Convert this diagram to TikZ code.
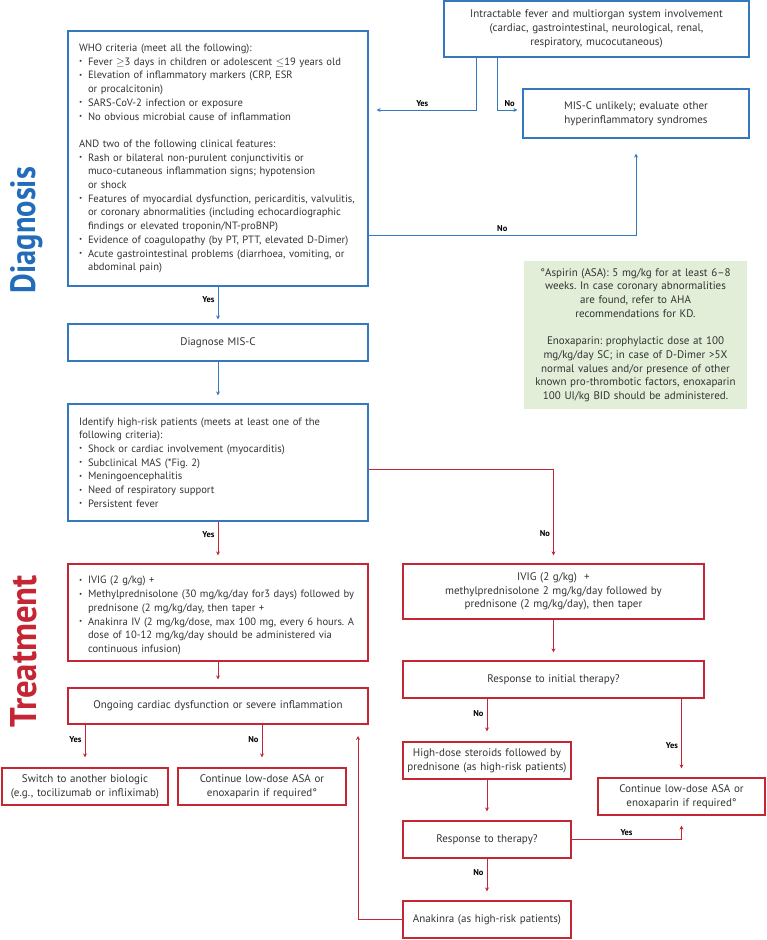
\documentclass[tikz,border=0pt]{standalone}
\usepackage{fontspec}
\setmainfont{PT Sans}
\usetikzlibrary{arrows.meta}
\definecolor{boxblue}{RGB}{52,120,190}
\definecolor{dxblue}{RGB}{34,108,186}
\definecolor{boxred}{RGB}{196,38,52}
\definecolor{notegreen}{RGB}{226,238,216}
\newcommand{\itm}{\par\hangindent=9pt\hangafter=1\noindent\makebox[9pt][l]{\raisebox{1.6pt}{\scriptsize\textbullet}}}

\begin{document}
\begin{tikzpicture}
	[x=1pt,y=-1pt,
	box/.style={draw,line width=1.2pt,inner xsep=4pt,inner ysep=0pt,text=black!80,font=\fontsize{11}{13.7}\selectfont\frenchspacing,align=center},
	bluebox/.style={box,draw=boxblue},
	redbox/.style={box,draw=boxred},
	listbox/.style={text width=292pt,align=left,font=\fontsize{10.6}{13.7}\selectfont\frenchspacing},
	lbl/.style={font=\fontsize{8.5}{9}\selectfont\bfseries,text=black,inner sep=3pt},
	blueconn/.style={draw=boxblue,line width=1pt,-{Stealth[length=4pt,width=4pt]},shorten >=8pt},
	redconn/.style={draw=boxred,line width=1pt,-{Stealth[length=4pt,width=4pt]},shorten >=8pt}]
	\useasboundingbox (0,0) rectangle (767,940);
	
	% side titles
	\node[rotate=90,anchor=base,text=dxblue] (diag) at (35,230) {\resizebox{126pt}{25pt}{\bfseries Diagnosis}};
	\node[rotate=90,anchor=base,text=boxred] (treat) at (36,651) {\resizebox{152pt}{26pt}{\bfseries Treatment}};
	
	% diagnosis
	\node[bluebox,listbox,minimum height=255pt] (who) at (218,158.5) {%
		\leftskip=7pt\noindent WHO criteria (meet all the following):
		\itm Fever $\geq$3 days in children or adolescent $\leq$19 years old
		\itm Elevation of inflammatory markers (CRP, ESR\newline or procalcitonin)
		\itm SARS-CoV-2 infection or exposure
		\itm No obvious microbial cause of inflammation
		\par\vspace{13.7pt}
		\noindent AND two of the following clinical features:
		\itm Rash or bilateral non-purulent conjunctivitis or\newline muco-cutaneous inflammation signs; hypotension\newline or shock
		\itm Features of myocardial dysfunction, pericarditis, valvulitis,\newline or coronary abnormalities (including echocardiographic\newline findings or elevated troponin/NT-proBNP)
		\itm Evidence of coagulopathy (by PT, PTT, elevated D-Dimer)
		\itm Acute gastrointestinal problems (diarrhoea, vomiting, or\newline abdominal pain)\par};
	\node[bluebox,text width=297pt,minimum height=56pt] (fever) at (596.5,29) {Intractable fever and multiorgan system involvement\\(cardiac, gastrointestinal, neurological, renal,\\respiratory, mucocutaneous)};
	\node[bluebox,text width=218pt,minimum height=49pt] (unlikely) at (636,113.5) {MIS-C unlikely; evaluate other\\hyperinflammatory syndromes};
	\node[bluebox,text width=292pt,minimum height=37pt] (dx) at (218,342.5) {Diagnose MIS-C};
	\node[bluebox,listbox,minimum height=117pt] (hr) at (218,462.5) {%
		\leftskip=7pt\noindent Identify high-risk patients (meets at least one of the\newline following criteria):
		\itm Shock or cardiac involvement (myocarditis)
		\itm Subclinical MAS (*Fig. 2)
		\itm Meningoencephalitis
		\itm Need of respiratory support
		\itm Persistent fever\par};
	\node[box,draw=none,fill=notegreen,text width=215pt,minimum height=148pt] (note) at (635.5,335) {°Aspirin (ASA): 5 mg/kg for at least 6–8\\weeks. In case coronary abnormalities\\are found, refer to AHA\\recommendations for KD.\\[13.7pt]Enoxaparin: prophylactic dose at 100\\mg/kg/day SC; in case of D-Dimer >5X\\normal values and/or presence of other\\known pro-thrombotic factors, enoxaparin\\100 UI/kg BID should be administered.};
	
	% treatment
	\node[redbox,listbox,minimum height=97pt] (ivighi) at (218,612.5) {%
		\leftskip=7pt
		\itm IVIG (2 g/kg) +
		\itm Methylprednisolone (30 mg/kg/day for3 days) followed by\newline prednisone (2 mg/kg/day, then taper +
		\itm Anakinra IV (2 mg/kg/dose, max 100 mg, every 6 hours. A\newline dose of 10-12 mg/kg/day should be administered via\newline continuous infusion)\par};
	\node[redbox,text width=293pt,minimum height=55pt] (ivigl) at (553.5,591.5) {IVIG (2 g/kg)~ +\\methylprednisolone 2 mg/kg/day followed by\\prednisone (2 mg/kg/day), then taper};
	\node[redbox,text width=292pt,minimum height=36pt] (ongo) at (218,706) {Ongoing cardiac dysfunction or severe inflammation};
	\node[redbox,text width=293pt,minimum height=37pt] (resp1) at (553.5,679.5) {Response to initial therapy?};
	\node[redbox,text width=158pt,minimum height=37pt] (switch) at (85,786.5) {Switch to another biologic\\(e.g., tocilizumab or infliximab)};
	\node[redbox,text width=160pt,minimum height=37pt] (contA) at (262,786.5) {Continue low-dose ASA or\\enoxaparin if required°};
	\node[redbox,text width=160pt,minimum height=37pt] (steroid) at (487,760.5) {High-dose steroids followed by\\prednisone (as high-risk patients)};
	\node[redbox,text width=159pt,minimum height=37pt] (contB) at (681.5,796.5) {Continue low-dose ASA or\\enoxaparin if required°};
	\node[redbox,text width=160pt,minimum height=37pt] (resp2) at (487,839.5) {Response to therapy?};
	\node[redbox,text width=160pt,minimum height=37pt] (anak) at (487,919.5) {Anakinra (as high-risk patients)};
	
	\coordinate (yesA) at (476,110);
	\coordinate (noA) at (497,110);
	\coordinate (noB) at (636,235);
	\coordinate (noC) at (554,469);
	\coordinate (back) at (358,724);
	
	% blue connectors
	\draw[blueconn] (fever.south -| yesA) -- (yesA) -- node[lbl,above]{Yes} (who.east |- yesA);
	\draw[blueconn,shorten >=5pt] (fever.south -| noA) -- (noA) -- node[lbl,above]{No} (unlikely.west |- noA);
	\draw[blueconn,shorten >=15pt] (who.east |- noB) -- node[lbl,above]{No} (noB) -- (unlikely.south);
	\draw[blueconn,shorten >=4pt] (who) -- node[lbl,left,pos=0.35]{Yes} (dx);
	\draw[blueconn] (dx) -- (hr);
	
	% red connectors
	\draw[redconn] (hr) -- node[lbl,left,pos=0.3]{Yes} (ivighi);
	\draw[redconn] (hr.east |- noC) -| node[lbl,left,pos=0.84]{No} (ivigl.north);
	\draw[redconn] (ivighi) -- (ongo);
	\draw[redconn] (ivigl) -- (resp1);
	\draw[redconn,shorten >=10pt] (switch.north |- ongo.south) -- node[lbl,left,pos=0.35]{Yes} (switch.north);
	\draw[redconn,shorten >=10pt] (contA.north |- ongo.south) -- node[lbl,left,pos=0.35]{No} (contA.north);
	\draw[redconn,shorten >=10pt] (steroid.north |- resp1.south) -- node[lbl,left,pos=0.35]{No} (steroid.north);
	\draw[redconn,shorten >=9pt] (contB.north |- resp1.south) -- node[lbl,left,pos=0.6]{Yes} (contB.north);
	\draw[redconn,shorten >=9pt] (steroid) -- (resp2);
	\draw[redconn,shorten >=9pt] (resp2) -- node[lbl,left,pos=0.33]{No} (anak);
	\draw[redconn,shorten >=10pt] (resp2.east) -| node[lbl,above,pos=0.25]{Yes} (contB.south);
	\draw[redconn,shorten >=12pt] (anak.west) -| (back);
\end{tikzpicture}
\end{document}
